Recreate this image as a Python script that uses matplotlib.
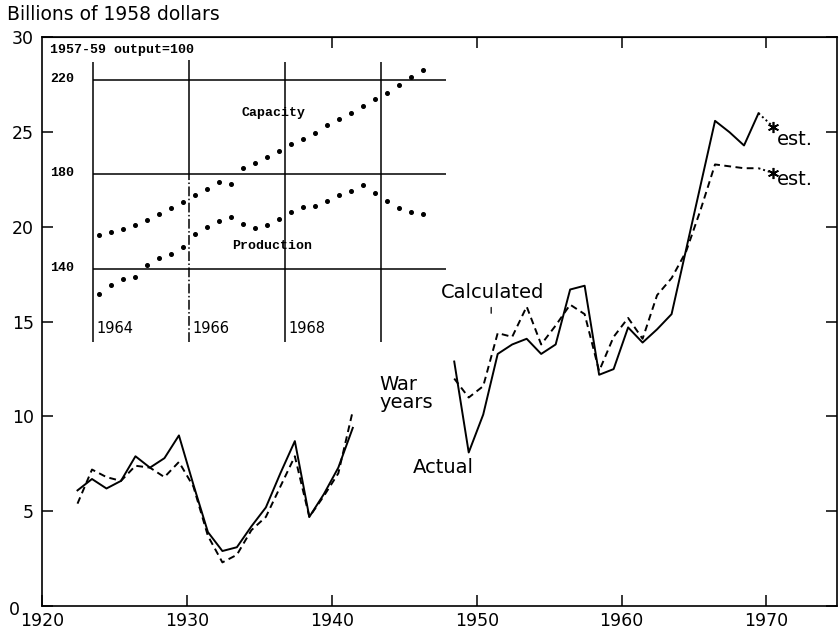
import numpy as np
import matplotlib.pyplot as plt
from matplotlib.transforms import ScaledTranslation

# --------------------------------------------------
# Data (billions of 1958 dollars)
# --------------------------------------------------

years_prewar = np.arange(1922, 1942)
actual_prewar = [6.1, 6.7, 6.2, 6.6, 7.9, 7.3, 7.8, 9.0, 6.4, 3.9,
                 2.9, 3.1, 4.2, 5.2, 7.0, 8.7, 4.7, 5.9, 7.3, 9.4]
calc_prewar = [5.4, 7.2, 6.8, 6.6, 7.4, 7.3, 6.8, 7.6, 6.3, 3.7,
               2.3, 2.7, 4.0, 4.7, 6.3, 7.9, 4.7, 5.8, 7.0, 10.3]

years_postwar = np.arange(1948, 1970)
actual_postwar = [12.9, 8.1, 10.1, 13.3, 13.8, 14.1, 13.3, 13.8, 16.7, 16.9, 12.2,
                  12.5, 14.7, 13.9, 14.6, 15.4, 18.8, 22.2, 25.6, 25.0, 24.3, 26.0]
calc_postwar = [12.0, 11.0, 11.6, 14.4, 14.2, 15.8, 13.8, 14.8, 15.9, 15.4, 12.4,
                14.2, 15.2, 14.1, 16.4, 17.3, 18.7, 20.9, 23.3, 23.2, 23.1, 23.1]

est_year = 1970
actual_est = 25.3
calc_est = 22.85

# inset: quarterly index, 1957-59 output = 100
inset_years = [1964, 1966, 1968]
inset_levels = [140, 180, 220]
capacity = [154.3, 155.8, 157.1, 158.8, 160.8, 163.4, 165.6, 168.2, 171.3, 173.7,
            176.7, 176.1, 182.6, 185.0, 187.4, 190.0, 192.9, 195.2, 197.7, 200.8,
            203.6, 205.9, 209.0, 211.8, 214.4, 218.0, 221.4, 224.1]
production = [129.3, 133.1, 135.8, 136.6, 141.6, 144.5, 146.4, 149.3, 154.7, 157.8,
              160.2, 161.9, 158.9, 157.4, 158.5, 161.3, 164.1, 166.1, 166.8, 168.8,
              171.2, 173.2, 175.4, 172.3, 168.9, 165.7, 164.0, 163.2]
quarters = 1964 + (np.arange(len(capacity)) + 0.5) / 4

# --------------------------------------------------
# Style
# --------------------------------------------------

plt.rcParams["font.family"] = "DejaVu Sans"
ink = "black"
lw = 1.4
dash = (3.5, 2.3)
mid = 0.45  # points sit at mid-year

fig = plt.figure(figsize=(8.4, 6.34), dpi=100)
ax = fig.add_axes([0.05, 0.0442, 0.947, 0.8967])

# --------------------------------------------------
# Main series
# --------------------------------------------------

ax.plot(years_prewar + mid, actual_prewar, color=ink, lw=lw)
ax.plot(years_prewar + mid, calc_prewar, color=ink, lw=lw, dashes=dash)
ax.plot(years_postwar + mid, actual_postwar, color=ink, lw=lw)
ax.plot(years_postwar + mid, calc_postwar, color=ink, lw=lw, dashes=dash)

# estimated 1970 points
ax.plot([years_postwar[-1] + mid, est_year + mid], [actual_postwar[-1], actual_est],
        color=ink, lw=lw, linestyle=(0, (1, 1.5)))
ax.plot([years_postwar[-1] + mid, est_year + mid], [calc_postwar[-1], calc_est],
        color=ink, lw=lw, linestyle=(0, (1, 1.5)))
ax.plot([est_year + mid, est_year + mid], [actual_est, calc_est], linestyle="none",
        marker=(6, 2, 0), markersize=8, markeredgewidth=1.2, color=ink)

ax.text(est_year + 0.75, actual_est - 0.95, "est.", fontsize=14, va="baseline", ha="left")
ax.text(est_year + 0.75, calc_est - 0.65, "est.", fontsize=14, va="baseline", ha="left")

# --------------------------------------------------
# Labels on the chart
# --------------------------------------------------

ax.text(1947.5, 16.55, "Calculated", fontsize=14, ha="left", va="center")
ax.annotate("", xy=(1951.0, 15.3), xytext=(1951.0, 15.9),
            arrowprops=dict(arrowstyle="-", lw=0.9, color=ink))
ax.text(1943.3, 11.2, "War\nyears", fontsize=14, ha="left", va="center", linespacing=0.95)
ax.text(1945.6, 7.3, "Actual", fontsize=14, ha="left", va="center")

fig.text(7 / 840, 1 - 14 / 634, "Billions of 1958 dollars", fontsize=13.5,
         ha="left", va="center")

# --------------------------------------------------
# Axes
# --------------------------------------------------

ax.set_xlim(1920, 1974.9)
ax.set_ylim(0, 30)
ax.set_xticks([1920, 1930, 1940, 1950, 1960, 1970])
ax.set_yticks([0, 5, 10, 15, 20, 25, 30])
ax.tick_params(axis="both", direction="in", length=8, width=1.1, labelsize=12.5, color=ink)
ax.tick_params(axis="y", right=True, pad=6)
ax.tick_params(axis="x", pad=4)
for side in ax.spines.values():
    side.set_linewidth(1.2)

# the "0" sits further left, clear of the "1920" label
zero_label = ax.get_yticklabels()[0]
zero_label.set_transform(zero_label.get_transform()
                         + ScaledTranslation(-14 / 100, -2 / 100, fig.dpi_scale_trans))

top = ax.secondary_xaxis("top")
top.set_xticks([1940, 1950, 1960, 1970])
top.tick_params(direction="in", length=8, width=1.1, labeltop=False)

# --------------------------------------------------
# Inset: capacity and production index
# --------------------------------------------------

ins = fig.add_axes([0.0524, 0.4558, 0.4952, 0.4811])
ins.set_xlim(1962.99, 1971.65)
ins.set_ylim(107.8, 236.9)
ins.axis("off")

ins.hlines(inset_levels, 1964, 1971.35, color=ink, lw=1.1)
ins.vlines([1964, 1968, 1970], 109, 227.6, color=ink, lw=1.1)
ins.vlines(1966, 180, 228.5, color=ink, lw=1.1)
ins.vlines(1966, 109, 180, color=ink, lw=1.1, linestyle="-.")

ins.plot(quarters, capacity, linestyle="none", marker="o", markersize=2.6, color=ink)
ins.plot(quarters, production, linestyle="none", marker="o", markersize=2.6, color=ink)

mono = dict(family="Liberation Mono", fontweight="bold", fontsize=9.5, color=ink)
ins.text(1963.11, 232.7, "1957-59 output=100", ha="left", va="center", **mono)
for lev in inset_levels:
    ins.text(1963.11, lev + 0.5, str(lev), ha="left", va="center", **mono)
ins.text(1967.11, 206.0, "Capacity", ha="left", va="center", **mono)
ins.text(1966.9, 149.7, "Production", ha="left", va="center", **mono)
for yr in inset_years:
    ins.text(yr + 0.08, 115.0, str(yr), ha="left", va="center", fontsize=10.5)

fig.savefig("out.png", dpi=100)
